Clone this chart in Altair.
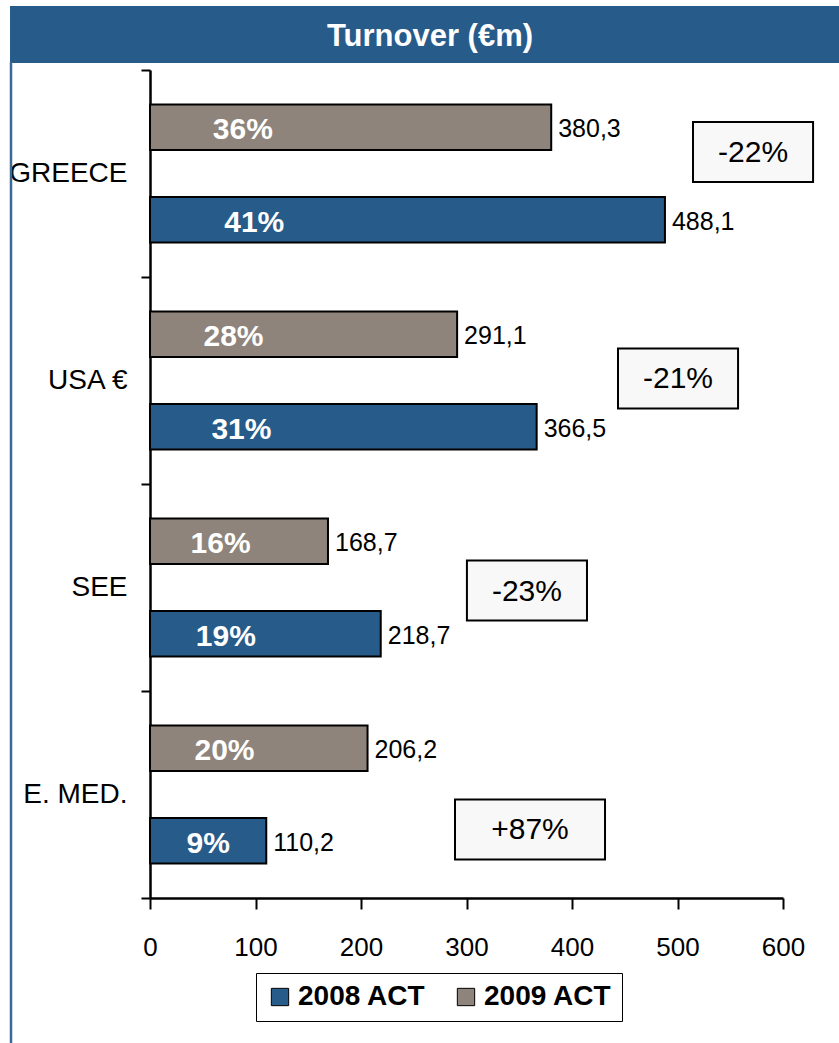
import altair as alt
import pandas as pd

# ---------------- data ----------------
regions = ["GREECE", "USA €", "SEE", "E. MED."]
years = ["2008 ACT", "2009 ACT"]
turnover_2008 = [488.1, 366.5, 218.7, 110.2]
turnover_2009 = [380.3, 291.1, 168.7, 206.2]
share_2008 = ["41%", "31%", "19%", "9%"]
share_2009 = ["36%", "28%", "16%", "20%"]
change_labels = ["-22%", "-21%", "-23%", "+87%"]
x_ticks = [0, 100, 200, 300, 400, 500, 600]

# annotation-box placement (centre x in €m, centre y in category units from top)
box_x = [571.6, 500.5, 357.3, 360.2]
box_y = [0.396, 1.490, 2.515, 3.669]
box_half_w = [56.9, 56.9, 56.9, 71.1]
BOX_HALF_H = 0.145

# ---------------- styles ----------------
BLUE = "#275b89"
GRAY = "#8e847b"
BORDER = "#3b6a98"
FONT = "Liberation Sans, Arial"

rows = []
for i, r in enumerate(regions):
    for yr, v, s in ((years[0], turnover_2008[i], share_2008[i]),
                     (years[1], turnover_2009[i], share_2009[i])):
        rows.append(dict(region=r, year=yr, value=v, share=s,
                         vlabel=f"{v:.1f}".replace(".", ",")))
df = pd.DataFrame(rows)

box_df = pd.DataFrame(dict(region=regions, cx=box_x, cy=box_y,
                           hw=box_half_w, change=change_labels))
deco_df = pd.DataFrame({"k": [0]})

Y = alt.Y("region:N", sort=regions,
          scale=alt.Scale(paddingInner=0, paddingOuter=0),
          axis=alt.Axis(title=None, tickBand="extent", tickSize=9, tickWidth=2,
                        tickColor="black", domainColor="black", domainWidth=2.5,
                        labelFont=FONT, labelFontSize=28, labelColor="black",
                        labelPadding=14, labelLimit=300))
YO = alt.YOffset("year:N", sort=["2009 ACT", "2008 ACT"],
                 scale=alt.Scale(paddingInner=0.507, paddingOuter=0.372))
X = alt.X("value:Q", title=None,
          scale=alt.Scale(domain=[0, 600], nice=False, zero=True),
          axis=alt.Axis(values=x_ticks, title=None, grid=False, tickSize=11,
                        tickWidth=2, tickColor="black", domainColor="black",
                        domainWidth=2.5, labelFont=FONT, labelFontSize=26,
                        labelColor="black", labelPadding=25, labelFlush=False,
                        format="d"))

bars = alt.Chart(df).mark_bar(stroke="black", strokeWidth=2).encode(
    x=X, y=Y, yOffset=YO,
    color=alt.Color("year:N", scale=alt.Scale(domain=years, range=[BLUE, GRAY]),
                    legend=alt.Legend(title=None, orient="none", legendX=106,
                                      legendY=903, direction="horizontal",
                                      strokeColor="black", fillColor="white",
                                      padding=10, symbolType="square",
                                      symbolSize=300, symbolStrokeColor="black",
                                      symbolStrokeWidth=1, symbolOffset=0,
                                      labelFont=FONT, labelFontSize=28,
                                      labelFontWeight="bold", labelColor="black",
                                      labelOffset=4, columnPadding=26,
                                      labelLimit=300)),
)

value_text = alt.Chart(df).mark_text(
    align="left", baseline="middle", dx=7, dy=2, font=FONT, fontSize=25,
    color="black").encode(x=X, y=Y, yOffset=YO, text="vlabel:N")

pct_text = alt.Chart(df).transform_calculate(
    lx="min(datum.value / 2, 50 + 0.1 * datum.value)"
).mark_text(
    align="center", baseline="middle", dy=3, font=FONT, fontSize=30,
    fontWeight="bold", color="white").encode(
    x=alt.X("lx:Q", title=None), y=Y, yOffset=YO, text="share:N")

inner = alt.layer(bars, value_text, pct_text)

YB = alt.Scale(domain=[0, 4], reverse=True, nice=False, zero=False)
box_rect = alt.Chart(box_df).transform_calculate(
    x1="datum.cx - datum.hw", x2="datum.cx + datum.hw",
    y1=f"datum.cy - {BOX_HALF_H}", y2=f"datum.cy + {BOX_HALF_H}"
).mark_rect(fill="#f8f8f8", stroke="black", strokeWidth=2).encode(
    x=alt.X("x1:Q", title=None), x2="x2:Q",
    y=alt.Y("y1:Q", scale=YB, axis=None), y2="y2:Q")
box_text = alt.Chart(box_df).mark_text(
    align="center", baseline="middle", dy=1, font=FONT, fontSize=30,
    color="black").encode(
    x=alt.X("cx:Q", title=None), y=alt.Y("cy:Q", scale=YB, axis=None),
    text="change:N")
boxes = alt.layer(box_rect, box_text)

title_bar = alt.Chart(deco_df).mark_rect(color=BLUE).encode(
    x=alt.value(-140), x2=alt.value(689), y=alt.value(-64), y2=alt.value(-7))
left_border = alt.Chart(deco_df).mark_rule(color=BORDER, strokeWidth=2.5).encode(
    x=alt.value(-139), y=alt.value(-8), y2=alt.value(980))
title_text = alt.Chart(deco_df).mark_text(
    font=FONT, fontSize=31, fontWeight="bold", color="white",
    align="center", baseline="alphabetic").encode(
    x=alt.value(280), y=alt.value(-24), text=alt.value("Turnover (€m)"))

chart = alt.layer(title_bar, left_border, title_text, inner, boxes).resolve_scale(
    y="independent"
).properties(
    width=633, height=828,
    autosize=alt.AutoSizeParams(type="none"),
    padding={"left": 150, "top": 70, "right": 56, "bottom": 145},
    background="white",
).configure_view(stroke=None)

chart.save("out.html", embed_options={"renderer": "svg", "actions": False})
